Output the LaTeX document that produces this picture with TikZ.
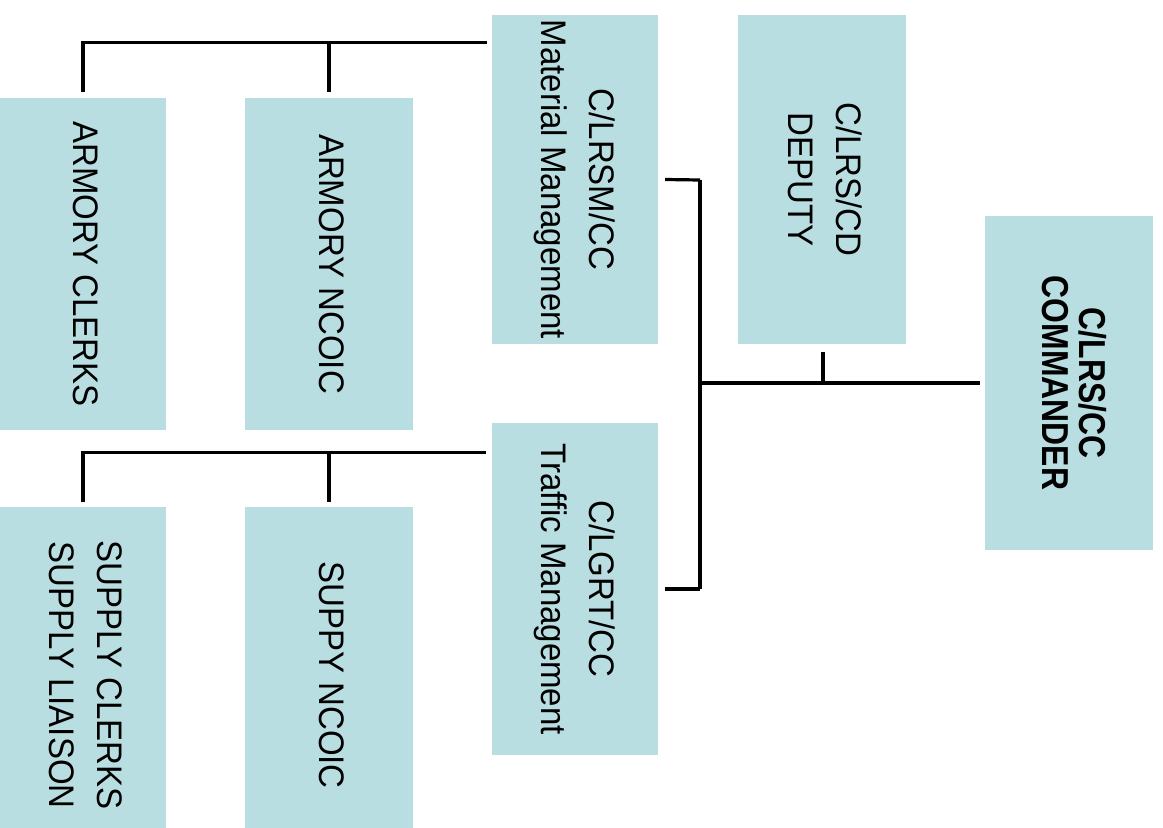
\documentclass[tikz,border=0pt]{standalone}
\usepackage{fontspec}
\setmainfont{Liberation Sans}[FakeStretch=0.93]
\newfontfamily\cmdfont{Liberation Sans}[FakeStretch=0.85]
\usetikzlibrary{calc}
\definecolor{boxblue}{RGB}{185,222,225}
\tikzset{
  orgbox/.style={fill=boxblue, draw=none, inner sep=0pt, minimum width=#1},
  orgbox/.default=167pt,
  link/.style={draw=black, line width=3.2pt},
}
\newcommand{\vtext}[1]{\rotatebox{-90}{\fontsize{35.5}{48}\selectfont\begin{tabular}{@{}c@{}}#1\end{tabular}}}
\newcommand{\vbold}[1]{\rotatebox{-90}{\cmdfont\bfseries\fontsize{37.5}{35}\selectfont\begin{tabular}{@{}c@{}}#1\end{tabular}}}
\begin{document}
\begin{tikzpicture}[x=1pt,y=-1pt]
\clip (0,0) rectangle (1163,828);
\fill[white] (0,0) rectangle (1163,828);
% boxes
\node[orgbox=166pt, minimum height=329pt] (mat) at (575,179.5) {\vtext{C/LRSM/CC\\Material Management}};
\node[orgbox=168pt, minimum height=329pt] (dep) at (822,179.5) {\vtext{C/LRS/CD\\DEPUTY}};
\node[orgbox=168pt, minimum height=334pt] (cmd) at (1069,383) {\vbold{C/LRS/CC\\COMMANDER}};
\node[orgbox=166pt, minimum height=332pt] (trf) at (575,589) {\vtext{C/LGRT/CC\\Traffic Management}};
\node[orgbox=166pt, minimum height=332pt] (ac) at (83,264) {\vtext{ARMORY CLERKS}};
\node[orgbox=168pt, minimum height=332pt] (an) at (329,264) {\vtext{ARMORY NCOIC}};
\node[orgbox=166pt, minimum height=336pt] (sc) at (83,675) {\vtext{SUPPLY CLERKS\\SUPPLY LIAISON}};
\node[orgbox=168pt, minimum height=336pt] (sn) at (329,675) {\vtext{SUPPY NCOIC}};
% bus coordinates
\coordinate (bus) at (700,383);
\coordinate (busT) at (700,180);
\coordinate (busB) at (700,589);
% commander to bus
\draw[link] ($(cmd.west)+(-5,0)$) -- (bus);
\draw[link] ($(dep.south)+(1,8)$) -- ($(dep.south |- bus)+(1,0)$);
\draw[link] (busT) -- (busB);
\draw[link] ($(mat.east)+(7,0)$) -- (busT);
\draw[link] ($(trf.east)+(7,0)$) -- (busB);
% material management branch
\coordinate (mT) at ($(mat.north west)+(-5,28)$);
\draw[link] (mT) -| ($(ac.north)+(0,-6)$);
\draw[link] ($(an.north)+(0,-6)$) -- (an.north |- mT);
% traffic management branch
\coordinate (tT) at ($(trf.north west)+(-6,30)$);
\draw[link] (tT) -| ($(sc.north)+(0,-5)$);
\draw[link] ($(sn.north)+(0,-5)$) -- (sn.north |- tT);
\end{tikzpicture}
\end{document}
